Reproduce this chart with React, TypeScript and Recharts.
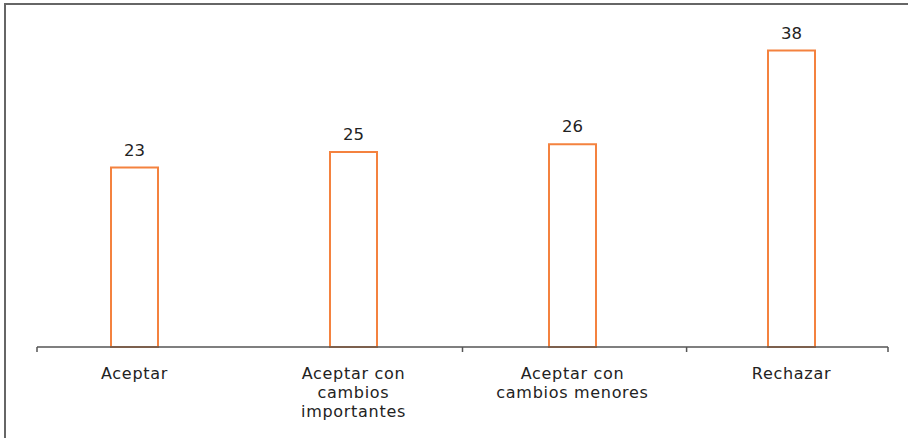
import { BarChart, Bar, XAxis, YAxis, LabelList } from "recharts";

const categories = [
  "Aceptar",
  "Aceptar con\ncambios\nimportantes",
  "Aceptar con\ncambios menores",
  "Rechazar",
];
const counts = [23, 25, 26, 38];
// where the little separator ticks sit on the bottom axis (0..3 across)
const separatorTicks = [0, 1.5, 2.29, 3];

const data = categories.map((name, i) => ({ name, count: counts[i] }));

function CategoryTick({ x, y, payload }: any) {
  const lines = String(payload.value).split("\n");
  return (
    <text
      x={x}
      y={y + 18}
      textAnchor="middle"
      fill="#222"
      style={{
        fontFamily: "'DejaVu Sans', sans-serif",
        fontSize: 16,
        letterSpacing: 0.7,
      }}
    >
      {lines.map((l, i) => (
        <tspan key={i} x={x} dy={i === 0 ? 0 : 19}>
          {l}
        </tspan>
      ))}
    </text>
  );
}

export default function App() {
  return (
    <div
      style={{
        position: "fixed",
        left: 0,
        top: 0,
        width: 908,
        height: 438,
        background: "#fff",
      }}
    >
      <div
        style={{
          position: "absolute",
          left: 4,
          top: 3,
          right: 0,
          bottom: 0,
          borderTop: "2px solid #666",
          borderLeft: "2px solid #666",
        }}
      />
      <BarChart
        width={908}
        height={438}
        data={data}
        margin={{ top: 35, right: 20, bottom: 0, left: 37 }}
        style={{ position: "absolute", left: 0, top: 0 }}
      >
        <XAxis
          xAxisId="a_sep"
          type="number"
          domain={[0, 3]}
          allowDataOverflow
          ticks={separatorTicks}
          height={6}
          axisLine={{ stroke: "#555", strokeWidth: 1.5 }}
          tickLine={{ stroke: "#555", strokeWidth: 1.5 }}
          tickSize={5}
          tick={() => <g />}
        />
        <XAxis
          xAxisId="b_cat"
          dataKey="name"
          height={85}
          interval={0}
          padding={{ left: -12, right: -13 }}
          axisLine={false}
          tickLine={false}
          tick={<CategoryTick />}
        />
        <YAxis hide domain={[0, 40]} />
        <Bar
          xAxisId="b_cat"
          dataKey="count"
          barSize={47}
          fill="#fff"
          stroke="#F4823F"
          strokeWidth={2}
          isAnimationActive={false}
        >
          <LabelList
            dataKey="count"
            position="top"
            offset={12}
            fill="#222"
            fontFamily="'DejaVu Sans', sans-serif"
            fontSize={16.5}
          />
        </Bar>
      </BarChart>
    </div>
  );
}
